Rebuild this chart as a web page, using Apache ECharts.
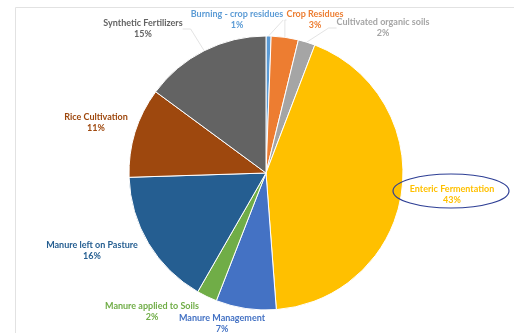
<!DOCTYPE html>
<html>
<head>
<meta charset="utf-8">
<script src="https://cdn.jsdelivr.net/npm/echarts@6/dist/echarts.min.js"></script>
<style>
  html, body { margin: 0; padding: 0; background: #fff; }
  #chart { width: 514px; height: 333px; }
</style>
</head>
<body>
<div id="chart"></div>
<script>
// Agricultural greenhouse-gas emissions by source (share of total, %)
const categories = [
  'Burning - crop residues',
  'Crop Residues',
  'Cultivated organic soils',
  'Enteric Fermentation',
  'Manure Management',
  'Manure applied to Soils',
  'Manure left on Pasture',
  'Rice Cultivation',
  'Synthetic Fertilizers'
];
const shares = [0.6, 3.2, 2.0, 43.0, 7.1, 2.4, 16.2, 10.6, 14.9];

const sliceColors = ['#5B9BD5', '#ED7D31', '#A5A5A5', '#FFC000', '#4472C4',
                     '#70AD47', '#255E91', '#9E480E', '#636363'];
// label anchor (text centre) for each slice label
const labelAnchors = [
  [237, 20], [315, 20], [383, 28], [452, 195], [222, 324],
  [152, 312], [92, 251], [96, 123], [143, 29]
];
const showLeader = [true, true, true, false, false, false, false, false, true];

const chart = echarts.init(document.getElementById('chart'));
chart.setOption({
  backgroundColor: '#ffffff',
  animation: false,
  graphic: [
    {
      type: 'rect',
      shape: { x: 15.5, y: 7.5, width: 520, height: 340 },
      style: { fill: 'none', stroke: '#e2e2e2', lineWidth: 1 },
      silent: true
    },
    {
      type: 'ellipse',
      shape: { cx: 451, cy: 191, rx: 58, ry: 17 },
      style: { fill: 'none', stroke: '#2E3F95', lineWidth: 1.2 },
      z: 10,
      silent: true
    }
  ],
  series: [{
    type: 'pie',
    center: [266, 173],
    radius: 137,
    startAngle: 90,
    clockwise: true,
    avoidLabelOverlap: false,
    itemStyle: { borderColor: '#ffffff', borderWidth: 1 },
    label: {
      show: true,
      position: 'outside',
      fontFamily: 'Lato',
      fontWeight: 700,
      fontSize: 9,
      lineHeight: 11,
      align: 'center',
      formatter: p => p.name + '\n' + Math.round(p.percent) + '%'
    },
    labelLine: {
      show: true,
      length: 8,
      length2: 8,
      lineStyle: { color: '#dcdcdc', width: 0.8 }
    },
    labelLayout: p => ({
      x: labelAnchors[p.dataIndex][0],
      y: labelAnchors[p.dataIndex][1],
      align: 'center',
      verticalAlign: 'middle'
    }),
    data: categories.map((name, i) => ({
      name: name,
      value: shares[i],
      itemStyle: { color: sliceColors[i] },
      label: { color: sliceColors[i] },
      labelLine: { show: showLeader[i] }
    }))
  }]
});
</script>
</body>
</html>
